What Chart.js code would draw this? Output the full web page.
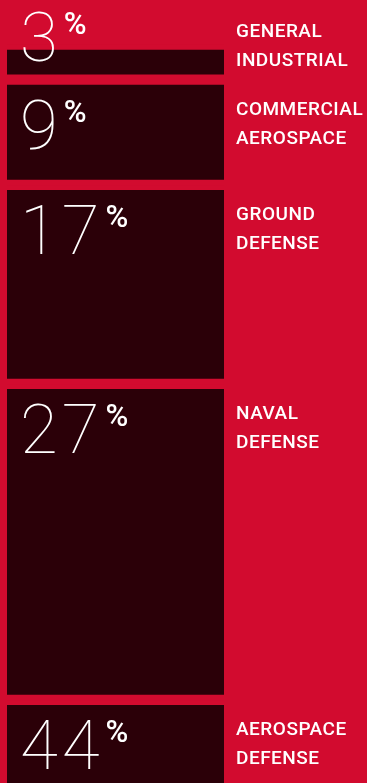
<!DOCTYPE html>
<html>
<head>
<meta charset="utf-8">
<script src="https://cdn.jsdelivr.net/npm/chart.js@4/dist/chart.umd.min.js"></script>
<style>
  html, body { margin: 0; padding: 0; background: #d20b2f; overflow: hidden; }
  #wrap { position: relative; width: 367px; height: 783px; }
</style>
</head>
<body>
<div id="wrap"><canvas id="c"></canvas></div>
<script>
// market share by segment, top to bottom
var segments = ['GENERAL INDUSTRIAL', 'COMMERCIAL AEROSPACE', 'GROUND DEFENSE', 'NAVAL DEFENSE', 'AEROSPACE DEFENSE'];
var labelLines = [['GENERAL', 'INDUSTRIAL'], ['COMMERCIAL', 'AEROSPACE'], ['GROUND', 'DEFENSE'], ['NAVAL', 'DEFENSE'], ['AEROSPACE', 'DEFENSE']];
var shares = [3, 9, 17, 27, 44];

var RED = '#d20b2f';
var DARK = '#2b0008';

var datasets = shares.map(function (v, i) {
  return {
    label: segments[i],
    data: [v],
    backgroundColor: DARK,
    borderColor: RED,
    borderWidth: { top: 5.5, bottom: 5.5, left: 0, right: 0 },
    borderSkipped: false,
    barPercentage: 1,
    categoryPercentage: 1
  };
});

var textPlugin = {
  id: 'shareText',
  afterDatasetsDraw: function (chart) {
    var ctx = chart.ctx;
    ctx.save();
    ctx.fillStyle = '#ffffff';
    ctx.textBaseline = 'alphabetic';
    ctx.textAlign = 'left';
    chart.data.datasets.forEach(function (ds, i) {
      var el = chart.getDatasetMeta(i).data[0];
      var top = Math.min(el.y, el.base) + 5.5;
      var h = Math.abs(el.base - el.y) - 11;
      // short bars get their number lifted above the bar
      var numTop = h < 50 ? top - 38 : top + 15;
      var lblTop = h < 50 ? top - 27 : top + 16;

      var num = String(shares[i]);
      ctx.font = '100 69px Roboto';
      ctx.letterSpacing = '4px';
      ctx.fillText(num, 20, numTop + 49);
      var w = ctx.measureText(num).width;
      ctx.letterSpacing = '0px';
      ctx.font = '500 31px Roboto';
      ctx.fillText('%', 20 + w + 2, numTop + 22);

      ctx.font = '500 19px Roboto';
      ctx.letterSpacing = '0.5px';
      labelLines[i].forEach(function (line, j) {
        ctx.fillText(line, 236, lblTop + 14 + j * 29);
      });
      ctx.letterSpacing = '0px';
    });
    ctx.restore();
  }
};

new Chart(document.getElementById('c'), {
  type: 'bar',
  data: { labels: [''], datasets: datasets },
  options: {
    responsive: true,
    maintainAspectRatio: false,
    animation: false,
    layout: { padding: { left: 7, right: 143, top: 0, bottom: 0 } },
    plugins: { legend: { display: false }, tooltip: { enabled: false } },
    scales: {
      x: { display: false, stacked: true },
      y: { display: false, stacked: true, reverse: true, min: -3.8, max: 63.1 }
    }
  },
  plugins: [textPlugin]
});
</script>
</body>
</html>
